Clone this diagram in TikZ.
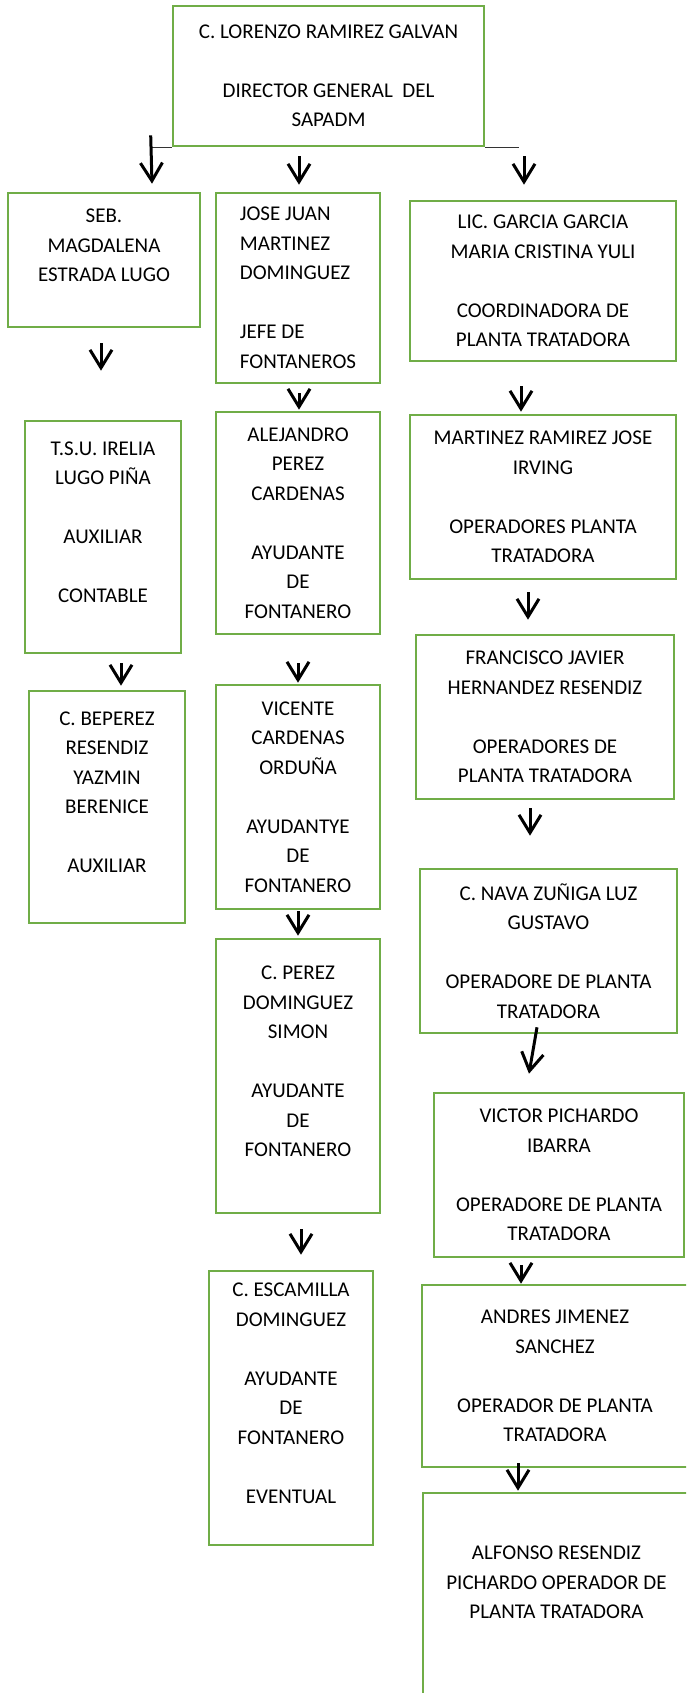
\documentclass[tikz,border=0pt]{standalone}
\usepackage{fontspec}
\setmainfont{Carlito}
\usepackage{tikz}
\usetikzlibrary{arrows.meta,calc}
\definecolor{boxgreen}{HTML}{70AD47}

\begin{document}
\begin{tikzpicture}[x=1pt, y=-1pt,
		box/.style={draw=boxgreen, line width=2.6pt, align=center, inner sep=0pt,
			font=\fontsize{21}{29.5}\selectfont},
		arr/.style={line width=3pt, -{Straight Barb[length=18pt,width=22pt]}},
		bus/.style={line width=1.2pt, black!80}]
		\useasboundingbox (0,0) rectangle (686,1693);
		\clip (0,0) rectangle (686,1693);
		\coordinate (T) at (328.5, 76);
		\coordinate (S1) at (104, 260);
		\coordinate (J1) at (298, 288);
		\coordinate (L1) at (543, 281);
		\coordinate (S2) at (103, 537);
		\coordinate (J2) at (298, 523);
		\coordinate (L2) at (543, 497);
		\coordinate (S3) at (107, 807);
		\coordinate (J3) at (298, 797);
		\coordinate (L3) at (545, 717);
		\coordinate (J4) at (298, 1076);
		\coordinate (L4) at (548.5, 951);
		\coordinate (L5) at (559, 1175);
		\coordinate (J5) at (291, 1408);
		\coordinate (L6) at (555, 1376);
		\coordinate (L7) at (556.5, 1612);
		\node at (T) [box, minimum width=311pt, minimum height=140pt] (director) {C. LORENZO RAMIREZ GALVAN\\~\\DIRECTOR GENERAL\ \ DEL\\SAPADM};
		\node at (S1) [box, minimum width=192pt, minimum height=134pt] (magdalena) {SEB.\\MAGDALENA\\ESTRADA LUGO\\~};
		\node at (J1) [box, align=left, minimum width=164pt, minimum height=190pt] (josejuan) {JOSE JUAN\\MARTINEZ\\DOMINGUEZ\\~\\JEFE DE\\FONTANEROS};
		\node at (L1) [box, minimum width=266pt, minimum height=160pt] (garcia) {LIC. GARCIA GARCIA\\MARIA CRISTINA YULI\\~\\COORDINADORA DE\\PLANTA TRATADORA};
		\node at (S2) [box, minimum width=156pt, minimum height=232pt] (irelia) {T.S.U. IRELIA\\LUGO PIÑA\\~\\AUXILIAR\\~\\CONTABLE\\~};
		\node at (J2) [box, minimum width=164pt, minimum height=222pt] (alejandro) {ALEJANDRO\\PEREZ\\CARDENAS\\~\\AYUDANTE\\DE\\FONTANERO};
		\node at (L2) [box, minimum width=266pt, minimum height=164pt] (irving) {MARTINEZ RAMIREZ JOSE\\IRVING\\~\\OPERADORES PLANTA\\TRATADORA};
		\node at (S3) [box, minimum width=156pt, minimum height=232pt] (yazmin) {C. BEPEREZ\\RESENDIZ\\YAZMIN\\BERENICE\\~\\AUXILIAR\\~};
		\node at (J3) [box, minimum width=164pt, minimum height=224pt] (vicente) {VICENTE\\CARDENAS\\ORDUÑA\\~\\AYUDANTYE\\DE\\FONTANERO};
		\node at (L3) [box, minimum width=258pt, minimum height=164pt] (francisco) {FRANCISCO JAVIER\\HERNANDEZ RESENDIZ\\~\\OPERADORES DE\\PLANTA TRATADORA};
		\node at (J4) [box, minimum width=164pt, minimum height=274pt] (simon) {C. PEREZ\\DOMINGUEZ\\SIMON\\~\\AYUDANTE\\DE\\FONTANERO\\~};
		\node at (L4) [box, minimum width=257pt, minimum height=164pt] (gustavo) {C. NAVA ZUÑIGA LUZ\\GUSTAVO\\~\\OPERADORE DE PLANTA\\TRATADORA};
		\node at (L5) [box, minimum width=250pt, minimum height=164pt] (victor) {VICTOR PICHARDO\\IBARRA\\~\\OPERADORE DE PLANTA\\TRATADORA};
		\node at (J5) [box, minimum width=164pt, minimum height=274pt] (escamilla) {C. ESCAMILLA\\DOMINGUEZ\\~\\AYUDANTE\\DE\\FONTANERO\\~\\EVENTUAL\\~};
		\node at (L6) [box, minimum width=266pt, minimum height=182pt] (andres) {ANDRES JIMENEZ\\SANCHEZ\\~\\OPERADOR DE PLANTA\\TRATADORA};
		\node at (L7) [box, minimum width=267pt, minimum height=238pt] (alfonso) {ALFONSO RESENDIZ\\PICHARDO OPERADOR DE\\PLANTA TRATADORA\\~\\~};
		\coordinate (busL) at ($(director.south west)+(-22,0)$);
		\coordinate (busR) at ($(director.south east)+(34,0)$);
		\draw[bus] (busL)--(director.south west);
		\draw[bus] (director.south east)--(busR);
		\draw[arr] ($(busL)+(1,-12)$)--($(magdalena.north)+(48,-8)$);
		\draw[arr] ($(director.south)+(-29.5,9)$)--($(josejuan.north)+(1,-7)$);
		\draw[arr] ($(director.south)+(195.5,9)$)--($(garcia.north)+(-19,-15)$);
		\draw[arr] ($(magdalena.south)+(-3,15)$)--($(irelia.north)+(-2,-49)$);
		\draw[arr] ($(josejuan.south)+(1,9)$)--($(alejandro.north)+(1,-1)$);
		\draw[arr] ($(garcia.south)+(-22,24)$)--($(irving.north)+(-22,-2)$);
		\draw[arr] ($(irelia.south)+(18,9)$)--($(yazmin.north)+(14,-4)$);
		\draw[arr] ($(alejandro.south)+(0,28)$)--($(vicente.north)+(0,-1)$);
		\draw[arr] ($(irving.south)+(-15,12)$)--($(francisco.north)+(-17,-14)$);
		\draw[arr] ($(francisco.south)+(-15,8)$)--($(gustavo.north)+(-18.5,-32)$);
		\draw[arr] ($(vicente.south)+(0,1)$)--($(simon.north)+(0,-2)$);
		\draw[arr] ($(gustavo.south)+(-11.5,-7)$)--($(victor.north)+(-30,-18)$);
		\draw[arr] ($(simon.south)+(3,15)$)--($(escamilla.north)+(10,-15)$);
		\draw[arr] ($(victor.south)+(-38,7)$)--($(andres.north)+(-34,0)$);
		\draw[arr] ($(andres.south)+(-37,-5)$)--($(alfonso.north)+(-38.5,-1)$);
	\end{tikzpicture}
\end{document}
